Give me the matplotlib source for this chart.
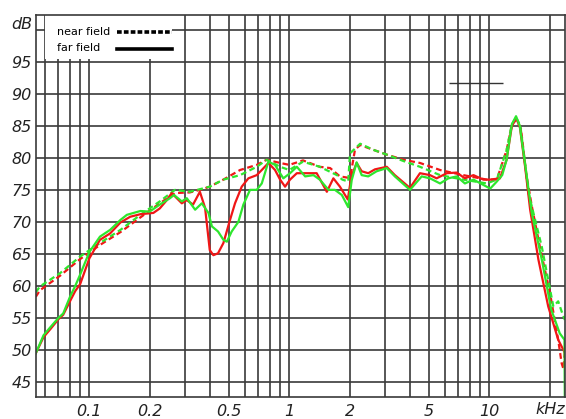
import numpy as np
import matplotlib
matplotlib.use("Agg")
import matplotlib.pyplot as plt
from matplotlib.patches import Rectangle

# far field, red (kHz / dB)
far_red_f = [0.054, 0.059, 0.064, 0.070, 0.074, 0.080, 0.085, 0.090, 0.100, 0.113,
             0.127, 0.143, 0.160, 0.180, 0.209, 0.225, 0.244, 0.258, 0.290, 0.307,
             0.330, 0.357, 0.379, 0.400, 0.417, 0.440, 0.468, 0.505, 0.535, 0.578,
             0.624, 0.687, 0.728, 0.786, 0.848, 0.899, 0.952, 1.008, 1.09, 1.22,
             1.37, 1.54, 1.66, 1.79, 1.96, 2.04, 2.17, 2.30, 2.48, 2.68,
             3.07, 3.37, 4.01, 4.50, 5.05, 5.45, 6.13, 6.87, 7.55, 8.33,
             9.34, 10.1, 11.3, 12.2, 12.95, 13.6, 14.2, 15.1, 16.0, 17.6,
             19.7, 22.1, 23.9]
far_red_db = [49.5, 52.0, 53.3, 54.8, 55.5, 57.6, 59.2, 60.3, 64.3, 67.2,
              68.2, 69.9, 70.8, 71.2, 71.4, 72.1, 73.4, 74.5, 72.9, 73.4,
              72.7, 74.7, 72.2, 65.6, 64.8, 65.1, 66.7, 70.3, 72.9, 75.5,
              76.8, 77.3, 78.1, 79.2, 78.1, 76.6, 75.5, 76.6, 77.6, 77.6,
              77.6, 74.7, 76.8, 75.5, 73.5, 77.0, 79.2, 77.9, 77.6, 78.2,
              78.6, 77.3, 75.3, 77.6, 77.3, 76.8, 77.6, 77.7, 76.8, 77.3,
              76.6, 76.6, 76.8, 79.7, 84.9, 86.2, 84.9, 78.6, 71.9, 64.1,
              56.8, 51.6, 49.5]

# far field, green
far_grn_f = [0.054, 0.059, 0.064, 0.070, 0.074, 0.080, 0.085, 0.090, 0.100, 0.113,
             0.127, 0.143, 0.154, 0.180, 0.200, 0.225, 0.253, 0.265, 0.290, 0.307,
             0.338, 0.365, 0.394, 0.410, 0.440, 0.468, 0.487, 0.515, 0.556, 0.589,
             0.636, 0.687, 0.728, 0.786, 0.848, 0.899, 0.933, 1.008, 1.09, 1.20,
             1.32, 1.42, 1.57, 1.69, 1.83, 1.97, 2.05, 2.17, 2.30, 2.48,
             2.73, 3.07, 3.37, 4.01, 4.59, 5.05, 5.67, 6.24, 6.87, 7.55,
             8.33, 9.30, 10.1, 10.9, 11.6, 12.2, 12.95, 13.6, 14.2, 15.1,
             16.3, 18.3, 20.4, 22.5, 23.75, 23.85]
far_grn_db = [49.5, 52.3, 53.6, 55.0, 55.7, 58.3, 60.0, 61.8, 65.3, 67.7,
              68.75, 70.3, 71.1, 71.7, 71.6, 72.7, 73.7, 74.2, 73.2, 73.7,
              71.9, 72.9, 71.4, 69.3, 68.5, 67.2, 66.9, 68.5, 70.0, 72.7,
              75.0, 75.0, 76.0, 79.4, 78.9, 77.6, 76.8, 77.6, 78.6, 77.1,
              77.3, 76.6, 75.0, 75.0, 74.2, 72.3, 76.5, 79.3, 77.3, 77.1,
              77.9, 78.4, 77.1, 75.0, 77.1, 76.8, 76.0, 76.8, 77.1, 76.0,
              76.6, 75.8, 75.2, 76.3, 77.3, 79.7, 85.2, 86.5, 85.0, 79.0,
              71.4, 64.1, 56.3, 52.6, 51.6, 42.0]

# near field, red
near_red_f = [0.054, 0.0565, 0.0714, 0.090, 0.113, 0.143, 0.180, 0.225, 0.268, 0.318,
              0.357, 0.400, 0.468, 0.567, 0.687, 0.770, 0.899, 1.00, 1.17, 1.42,
              1.60, 1.79, 1.96, 2.03, 2.13, 2.26, 2.63, 3.07, 3.72, 4.50,
              5.67, 7.41, 9.71, 10.9, 12.2, 12.95, 13.6, 14.4, 15.3, 16.3,
              17.9, 20.1, 22.1, 23.0, 23.5, 23.85]
near_red_db = [58.3, 59.3, 61.6, 64.2, 66.4, 68.4, 70.7, 72.9, 74.5, 74.6,
               75.0, 75.5, 76.6, 78.1, 78.9, 79.7, 79.2, 78.9, 79.6, 78.6,
               78.4, 77.1, 76.9, 77.5, 81.3, 82.0, 81.25, 80.5, 79.7, 79.2,
               78.1, 77.3, 76.6, 76.6, 81.2, 85.0, 86.0, 84.5, 77.5, 72.5,
               66.1, 58.9, 51.6, 47.9, 47.0, 50.0]

# near field, green
near_grn_f = [0.054, 0.0565, 0.0714, 0.090, 0.113, 0.143, 0.180, 0.225, 0.268, 0.318,
              0.400, 0.468, 0.567, 0.687, 0.770, 0.899, 1.00, 1.17, 1.42, 1.73,
              1.84, 1.97, 2.01, 2.26, 2.63, 3.07, 3.72, 4.50, 5.67, 7.41,
              9.71, 10.9, 12.2, 12.95, 13.6, 14.3, 15.7, 18.3, 20.9, 22.1,
              23.0, 23.85]
near_grn_db = [59.0, 59.9, 62.0, 64.6, 66.7, 68.75, 71.1, 73.2, 75.0, 74.7,
               75.5, 76.6, 77.3, 78.6, 79.7, 78.6, 78.1, 79.4, 78.6, 77.3,
               76.6, 76.3, 80.7, 82.2, 81.25, 80.5, 79.5, 78.6, 77.3, 76.6,
               76.0, 76.6, 81.2, 85.2, 86.3, 85.0, 74.5, 66.1, 56.8, 57.6,
               56.0, 54.7]

x_ticks = [0.1, 0.2, 0.5, 1, 2, 5, 10]
x_labels = ['0.1', '0.2', '0.5', '1', '2', '5', '10']
x_minor = [0.06, 0.07, 0.08, 0.09, 0.3, 0.4, 0.6, 0.7, 0.8, 0.9,
           3, 4, 6, 7, 8, 9, 20]
y_ticks = [45, 50, 55, 60, 65, 70, 75, 80, 85, 90, 95, 100]
legend_labels = ['near field', 'far field']

RED = '#f01616'
GREEN = '#2ee62e'
GRID = '#3a3a3a'

fig = plt.figure(figsize=(5.66, 4.19), dpi=100)
ax = fig.add_axes([36/566, 22/419, 529/566, 382/419])

ax.semilogx(near_red_f, near_red_db, color=RED, lw=1.6, dashes=(2.6, 1.6))
ax.semilogx(near_grn_f, near_grn_db, color=GREEN, lw=1.6, dashes=(2.6, 1.6))
ax.semilogx(far_red_f, far_red_db, color=RED, lw=1.6)
ax.semilogx(far_grn_f, far_grn_db, color=GREEN, lw=1.6)

# stray short line in the upper right
ax.hlines(91.7, 6.31, 11.75, color='#333333', lw=1.0)

ax.set_xlim(0.0541, 23.9)
ax.set_ylim(42.66, 102.3)

ax.set_xticks(x_ticks)
ax.set_xticklabels(x_labels)
ax.set_xticks(x_minor, minor=True)
ax.set_xticklabels([], minor=True)
ax.set_yticks(y_ticks)
ax.set_yticklabels([str(v) if v < 100 else '' for v in y_ticks])

ax.grid(True, which='both', color=GRID, lw=1.2)
ax.set_axisbelow(True)
ax.tick_params(which='both', length=0)
ax.tick_params(axis='x', pad=5)
ax.tick_params(axis='y', pad=3)
for lbl in ax.get_xticklabels() + ax.get_yticklabels():
    lbl.set_fontstyle('italic')
    lbl.set_fontsize(11.5)
    lbl.set_color('#222222')
for sp in ax.spines.values():
    sp.set_color(GRID)
    sp.set_linewidth(1.2)

ax.text(-0.006, 100.8, 'dB', transform=ax.get_yaxis_transform(),
        ha='right', va='center', fontsize=11.5, style='italic', color='#222222')
ax.text(1.0, -0.034, 'kHz', transform=ax.transAxes,
        ha='right', va='center', fontsize=11.5, style='italic', color='#222222')

# legend box (text left, sample line right) drawn by hand, under the frame
ax.add_patch(Rectangle((0.017, 0.886), 0.24, 0.114, transform=ax.transAxes,
                       facecolor='white', edgecolor='none', zorder=2.2))
ax.text(0.0397, 0.9555, legend_labels[0], transform=ax.transAxes,
        ha='left', va='center', fontsize=8, zorder=4)
ax.text(0.0397, 0.9136, legend_labels[1], transform=ax.transAxes,
        ha='left', va='center', fontsize=8, zorder=4)
ax.plot([0.153, 0.257], [0.9555, 0.9555], transform=ax.transAxes,
        color='black', lw=2.6, dashes=(1.3, 0.6), zorder=4)
ax.plot([0.153, 0.257], [0.911, 0.911], transform=ax.transAxes,
        color='black', lw=2.6, zorder=4)

fig.savefig('out.png', dpi=100, facecolor='white')
